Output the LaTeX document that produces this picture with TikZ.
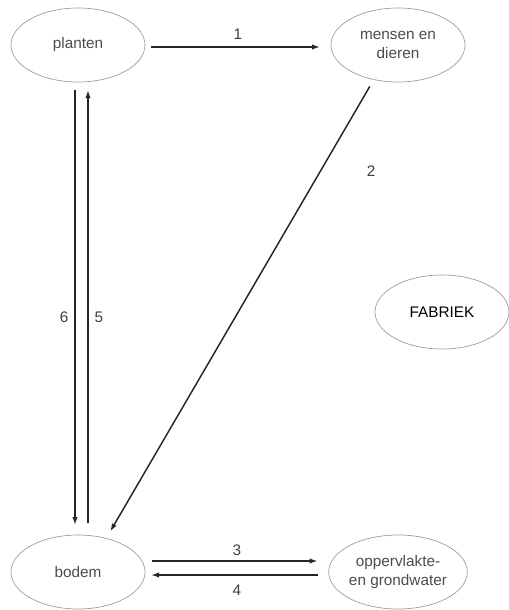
\documentclass[tikz,border=0pt]{standalone}
\usepackage{fontspec}
\setmainfont{Liberation Sans}
\usetikzlibrary{shapes.geometric,arrows.meta}

\begin{document}
\begin{tikzpicture}[x=0.75pt, y=-0.75pt,
        main/.style = {draw=gray!80, line width=0.5pt, ellipse, minimum width=100.5pt, minimum height=55.5pt,
                       inner sep=0pt, outer sep=0pt, align=center, text=black!70,
                       font=\fontsize{11.5}{14}\selectfont},
        flow/.style = {-{Latex[length=6pt, width=4pt]}, line width=1.1pt, draw=black!85},
        num/.style = {text=black!75, font=\fontsize{11.5}{14}\selectfont}]
    \useasboundingbox (0,0) rectangle (508,610);

    \node[main] (planten)  at (78,45)   {planten};
    \node[main] (mensen)   at (398,45)  {mensen en\\dieren};
    \node[main] (fabriek)  at (442,312) {\textcolor{black}{FABRIEK}};
    \node[main] (bodem)    at (78,572)  {bodem};
    \node[main] (water)    at (398,572) {oppervlakte-\\en grondwater};

    \draw[flow, shorten <=4.5pt, shorten >=8.25pt] ([yshift=-1.5pt]planten.east) -- node[num, midway, above=1.5pt] (n1) {1} ([yshift=-1.5pt]mensen.west);
    \draw[flow, shorten <=6pt, shorten >=6pt] (mensen.-125) -- node[num, pos=0.2, right=31pt] (n2) {2} (bodem.50);
    \draw[flow, shorten <=5.25pt, shorten >=8.25pt] ([yshift=8.25pt]bodem.east) -- node[num, midway, above=0pt] (n3) {3} ([yshift=8.25pt]water.west);
    \draw[flow, shorten <=8.25pt, shorten >=4.5pt] ([yshift=-2.25pt]water.west) -- node[num, midway, below=3.5pt] (n4) {4} ([yshift=-2.25pt]bodem.east);
    \draw[flow, shorten <=9pt, shorten >=6pt] ([xshift=7.5pt]bodem.north) -- node[num, pos=0.48, right=1pt] (n5) {5} ([xshift=7.5pt]planten.south);
    \draw[flow, shorten <=6pt, shorten >=7.5pt] ([xshift=-2.25pt]planten.south) -- node[num, pos=0.52, left=1pt] (n6) {6} ([xshift=-2.25pt]bodem.north);
\end{tikzpicture}
\end{document}
